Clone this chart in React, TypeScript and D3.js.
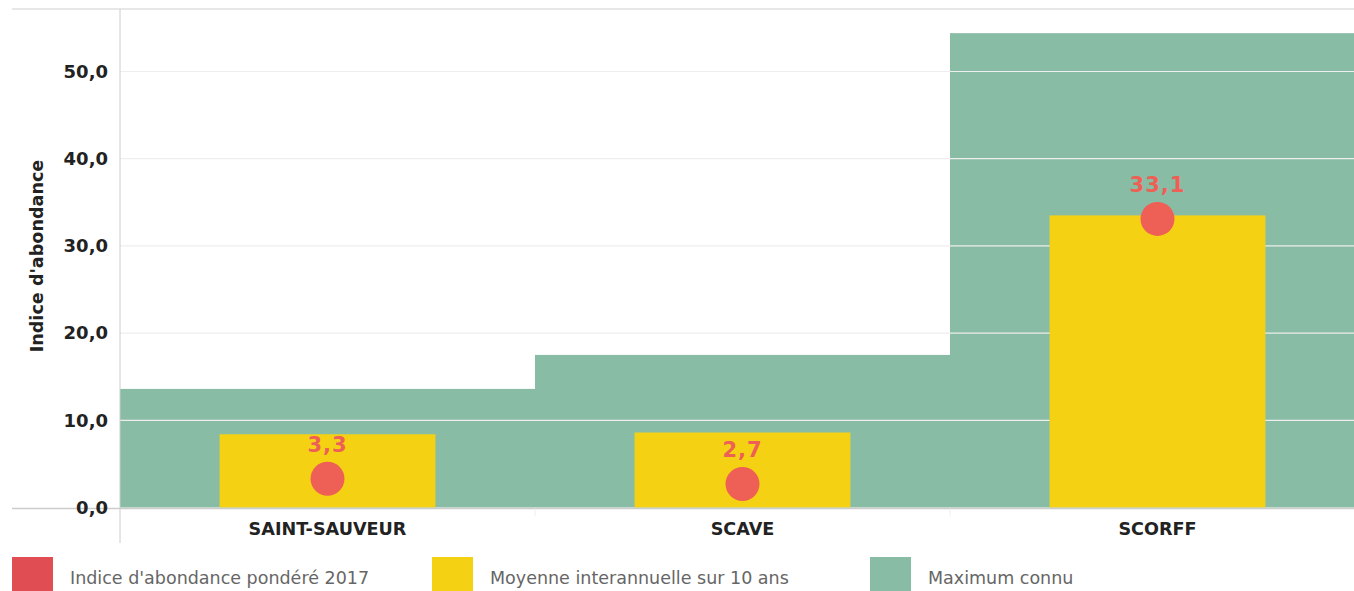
import { useRef, useEffect } from 'react';
import * as d3 from 'd3';

const categories = ['SAINT-SAUVEUR', 'SCAVE', 'SCORFF'];
const maxKnown = [13.6, 17.5, 54.4];
const interannualMean = [8.4, 8.6, 33.5];
const weightedIndex2017 = [3.3, 2.7, 33.1];
const yTicks = [0, 10, 20, 30, 40, 50];

const legendItems = [
  { label: "Indice d'abondance pondéré 2017", color: '#e04e53' },
  { label: 'Moyenne interannuelle sur 10 ans', color: '#f4d213' },
  { label: 'Maximum connu', color: '#89bca5' },
];

const W = 1354;
const H = 591;
const FONT = '"DejaVu Sans", "Open Sans", sans-serif';

const fmt = (v: number) => d3.format('.1f')(v).replace('.', ',');

export default function App() {
  const svgRef = useRef<SVGSVGElement>(null);

  useEffect(() => {
    if (!svgRef.current) return;
    const svg = d3.select(svgRef.current);
    svg.selectAll('*').remove();

    const left = 120;
    const right = 1365;
    const top = 9;
    const bottom = 507.5;

    const x = d3.scaleBand<string>().domain(categories).range([left, right]);
    const y = d3.scaleLinear().domain([0, 57.17]).range([bottom, top]);

    // top frame line
    svg.append('line')
      .attr('x1', 12).attr('x2', W).attr('y1', top).attr('y2', top)
      .attr('stroke', '#cfcfcf').attr('stroke-width', 1);

    // green "maximum connu" bars
    svg.append('g').selectAll('rect')
      .data(categories)
      .join('rect')
      .attr('x', (d) => x(d)!)
      .attr('width', x.bandwidth())
      .attr('y', (_, i) => y(maxKnown[i]))
      .attr('height', (_, i) => bottom - y(maxKnown[i]))
      .attr('fill', '#89bca5');

    // grid lines
    svg.append('g').selectAll('line')
      .data(yTicks.filter((t) => t > 0))
      .join('line')
      .attr('x1', left).attr('x2', W)
      .attr('y1', (d) => y(d)).attr('y2', (d) => y(d))
      .attr('stroke', '#eeeeee').attr('stroke-width', 1.2);

    // yellow mean bars
    const inner = x.bandwidth() * 0.52;
    svg.append('g').selectAll('rect')
      .data(categories)
      .join('rect')
      .attr('x', (d) => x(d)! + (x.bandwidth() - inner) / 2)
      .attr('width', inner)
      .attr('y', (_, i) => y(interannualMean[i]))
      .attr('height', (_, i) => bottom - y(interannualMean[i]))
      .attr('fill', '#f4d213');

    // axis lines
    svg.append('line')
      .attr('x1', 12).attr('x2', W).attr('y1', bottom + 1).attr('y2', bottom + 1)
      .attr('stroke', '#cccccc').attr('stroke-width', 1.5);
    svg.append('line')
      .attr('x1', left).attr('x2', left).attr('y1', top).attr('y2', 543)
      .attr('stroke', '#cccccc').attr('stroke-width', 1);
    svg.append('g').selectAll('line')
      .data(categories.slice(1))
      .join('line')
      .attr('x1', (d) => x(d)!).attr('x2', (d) => x(d)!)
      .attr('y1', bottom + 1).attr('y2', bottom + 9)
      .attr('stroke', '#eeeeee').attr('stroke-width', 1);

    // y tick labels
    svg.append('g').selectAll('text')
      .data(yTicks)
      .join('text')
      .attr('x', 108)
      .attr('y', (d) => y(d))
      .attr('dy', '0.35em')
      .attr('text-anchor', 'end')
      .attr('font-family', FONT)
      .attr('font-weight', 'bold')
      .attr('font-size', 18)
      .attr('fill', '#222')
      .text((d) => fmt(d));

    // y axis title
    svg.append('text')
      .attr('transform', `translate(43,256) rotate(-90)`)
      .attr('text-anchor', 'middle')
      .attr('font-family', FONT)
      .attr('font-weight', 'bold')
      .attr('font-size', 17.6)
      .attr('fill', '#222')
      .text("Indice d'abondance");

    // category labels
    svg.append('g').selectAll('text')
      .data(categories)
      .join('text')
      .attr('x', (d) => x(d)! + x.bandwidth() / 2)
      .attr('y', 535)
      .attr('text-anchor', 'middle')
      .attr('font-family', FONT)
      .attr('font-weight', 'bold')
      .attr('font-size', 17.6)
      .attr('fill', '#222')
      .text((d) => d);

    // red points + labels
    const pts = svg.append('g');
    pts.selectAll('circle')
      .data(categories)
      .join('circle')
      .attr('cx', (d) => x(d)! + x.bandwidth() / 2)
      .attr('cy', (_, i) => y(weightedIndex2017[i]))
      .attr('r', 17)
      .attr('fill', '#ee6055');
    pts.selectAll('text')
      .data(categories)
      .join('text')
      .attr('x', (d) => x(d)! + x.bandwidth() / 2)
      .attr('y', (_, i) => y(weightedIndex2017[i]) - 27)
      .attr('text-anchor', 'middle')
      .attr('font-family', FONT)
      .attr('font-weight', 'bold')
      .attr('font-size', 21)
      .attr('letter-spacing', 1)
      .attr('fill', '#ee6055')
      .text((_, i) => fmt(weightedIndex2017[i]));

    // legend
    const legendX = [12, 432, 870];
    const lg = svg.append('g');
    legendItems.forEach((item, i) => {
      lg.append('rect')
        .attr('x', legendX[i]).attr('y', 557)
        .attr('width', 41).attr('height', 34)
        .attr('fill', item.color);
      lg.append('text')
        .attr('x', legendX[i] + 58).attr('y', 584)
        .attr('font-family', FONT)
        .attr('font-size', 17.5)
        .attr('fill', '#666')
        .text(item.label);
    });
  }, []);

  return (
    <div style={{ position: 'absolute', left: 0, top: 0 }}>
      <svg ref={svgRef} width={W} height={H} style={{ display: 'block', background: '#fff' }} />
    </div>
  );
}
